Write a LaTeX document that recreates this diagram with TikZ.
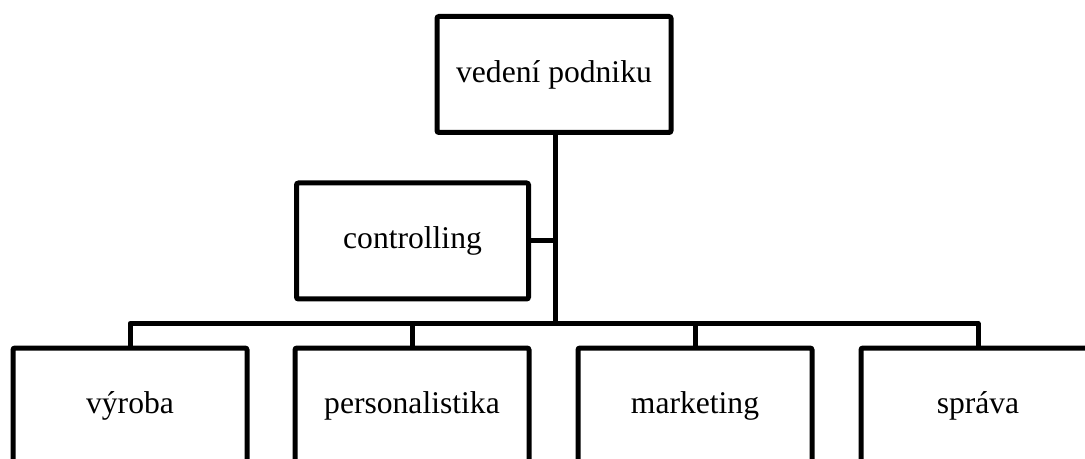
\documentclass[tikz,border=0pt]{standalone}
\usepackage{fontspec}
\setmainfont{Liberation Serif}
\begin{document}
\begin{tikzpicture}[x=0.5pt,y=-0.5pt,
  unit/.style={draw=black, line width=2.5pt, rounded corners=1pt, fill=white,
    minimum width=117pt, minimum height=58pt, inner sep=0pt,
    font=\fontsize{15.8}{18}\selectfont},
  link/.style={draw=black, line width=2.5pt, line join=round}]
\useasboundingbox (0,0) rectangle (1085,459);
\clip (0,0) rectangle (1085,459);
% head of the company and staff unit
\node[unit] (top) at (554,74.5) {vedení podniku};
\node[unit, minimum width=116pt] (ctrl) at (412.5,241) {controlling};
% departments
\node[unit] (b1) at (130,406) {výroba};
\node[unit] (b2) at (412,406) {personalistika};
\node[unit] (b3) at (695,406) {marketing};
\node[unit] (b4) at (978,406) {správa};
% connectors
\coordinate (bus) at (555,323.5);
\draw[link] (top.south -| bus) -- (bus);
\draw[link] (ctrl.east) -- (ctrl.east -| bus);
\draw[link] (b1.north) |- (bus) -| (b4.north);
\draw[link] (b2.north) -- (b2.north |- bus);
\draw[link] (b3.north) -- (b3.north |- bus);
\end{tikzpicture}
\end{document}
